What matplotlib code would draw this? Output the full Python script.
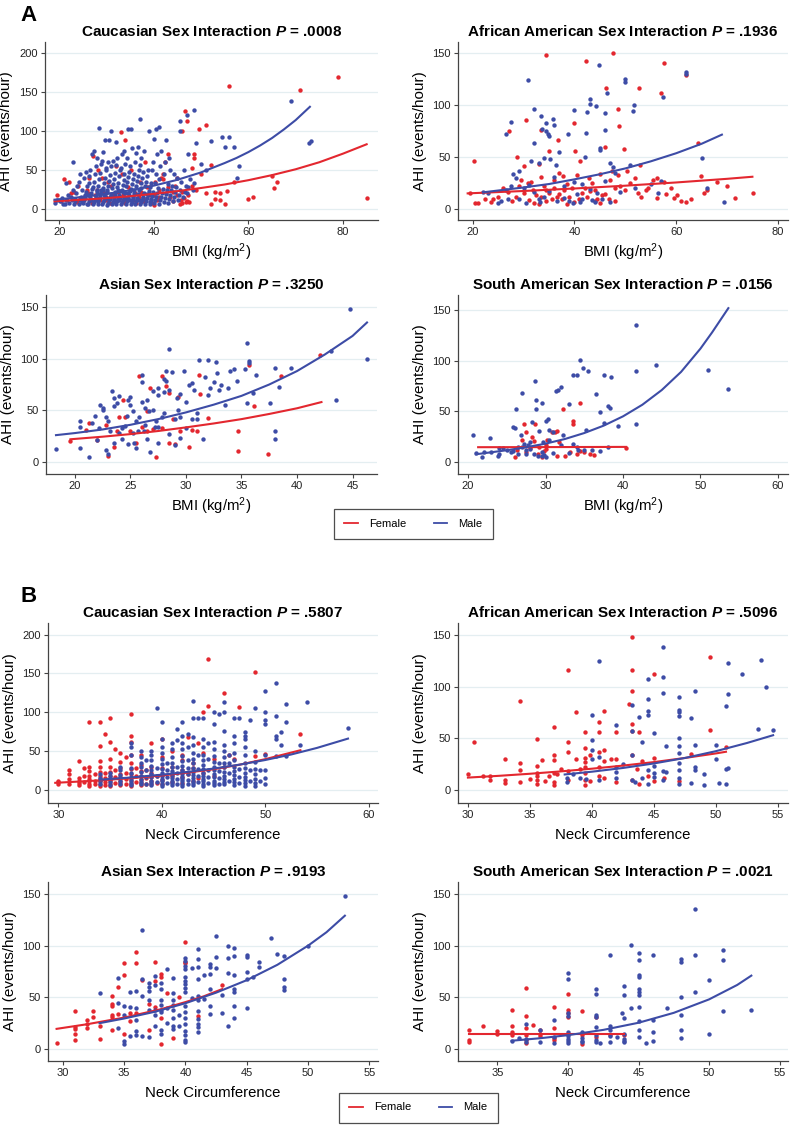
import matplotlib
matplotlib.use('Agg')
import matplotlib.pyplot as plt
from matplotlib.lines import Line2D
import numpy as np

plt.rcParams['font.family'] = ['Liberation Sans', 'DejaVu Sans']
plt.rcParams['mathtext.fontset'] = 'custom'
plt.rcParams['mathtext.rm'] = 'Liberation Sans'
plt.rcParams['mathtext.it'] = 'Liberation Sans:italic:bold'
plt.rcParams['mathtext.bf'] = 'Liberation Sans:bold'

RED = '#e3272f'
BLUE = '#3d4ca6'

# ---------------- A: BMI ----------------
cau_bmi_m = [
    (19.2,8),(19.6,12),(20.1,10),(20.5,14),(20.8,7),(21.2,6),(21.5,12),(21.8,18),(21.4,33),
    (22.1,8),(22.4,15),(22.7,11),(22.9,24),(23.1,7),(23.4,13),(23.6,20),(23.8,30),(23.0,60),(23.3,10),
    (24.1,6),(24.3,11),(24.6,16),(24.8,25),(24.2,35),(24.5,45),(24.9,9),
    (25.1,8),(25.3,12),(25.5,18),(25.7,22),(25.9,30),(25.2,40),(25.6,48),(25.4,14),(25.8,6),
    (26.1,7),(26.3,10),(26.5,15),(26.7,20),(26.9,26),(26.2,33),(26.4,42),(26.6,50),(26.8,12),(26.0,18),
    (27.1,6),(27.3,9),(27.5,13),(27.7,17),(27.9,22),(27.2,28),(27.4,35),(27.6,45),(27.8,55),(27.0,70),(27.3,75),(27.6,11),(27.9,24),
    (28.1,7),(28.3,10),(28.5,14),(28.7,19),(28.9,24),(28.2,30),(28.4,38),(28.6,46),(28.8,58),(28.0,65),(28.5,104),(28.3,12),(28.7,16),(28.9,21),
    (29.1,6),(29.3,9),(29.5,12),(29.7,16),(29.9,21),(29.2,27),(29.4,33),(29.6,40),(29.8,50),(29.0,62),(29.3,73),(29.6,88),(29.9,14),(29.5,18),(29.2,25),
    (30.1,5),(30.3,8),(30.5,11),(30.7,15),(30.9,19),(30.2,24),(30.4,29),(30.6,36),(30.8,44),(30.0,52),(30.3,60),(30.5,88),(30.7,13),(30.9,17),(30.1,22),
    (31.1,6),(31.3,9),(31.5,13),(31.7,17),(31.9,22),(31.2,27),(31.4,32),(31.6,38),(31.8,46),(31.0,55),(31.3,62),(31.0,100),(31.6,11),(31.9,20),
    (32.1,7),(32.3,10),(32.5,14),(32.7,18),(32.9,23),(32.2,28),(32.4,34),(32.6,42),(32.8,50),(32.0,57),(32.3,66),(32.1,86),(32.6,12),(32.9,16),(32.4,25),
    (33.1,6),(33.3,9),(33.5,12),(33.7,16),(33.9,20),(33.2,25),(33.4,31),(33.6,37),(33.8,45),(33.0,53),(33.3,70),(33.6,75),(33.9,14),(33.5,22),
    (34.1,7),(34.3,10),(34.5,14),(34.7,18),(34.9,23),(34.2,29),(34.4,35),(34.6,41),(34.8,48),(34.0,58),(34.3,65),(34.6,102),(34.9,12),(34.5,20),
    (35.1,6),(35.3,9),(35.5,13),(35.7,17),(35.9,21),(35.2,26),(35.4,32),(35.6,38),(35.8,45),(35.0,55),(35.3,78),(35.1,103),(35.7,15),(35.9,24),
    (36.1,7),(36.3,10),(36.5,14),(36.7,19),(36.9,24),(36.2,30),(36.4,36),(36.6,43),(36.8,50),(36.0,60),(36.3,72),(36.6,80),(36.9,12),
    (37.1,6),(37.3,9),(37.5,12),(37.7,16),(37.9,21),(37.2,27),(37.4,33),(37.6,40),(37.8,48),(37.0,57),(37.3,66),(37.0,115),(37.7,14),
    (38.1,7),(38.3,10),(38.5,14),(38.7,18),(38.9,23),(38.2,29),(38.4,35),(38.6,42),(38.8,50),(38.0,75),(38.5,19),
    (39.1,6),(39.3,9),(39.5,13),(39.7,17),(39.9,22),(39.2,28),(39.4,34),(39.6,50),(39.8,60),(39.0,100),(39.5,11),
    (40.1,8),(40.3,12),(40.5,16),(40.7,21),(40.9,27),(40.2,33),(40.4,45),(40.6,70),(40.0,90),(40.5,102),
    (41.1,7),(41.3,11),(41.5,15),(41.7,20),(41.9,26),(41.2,38),(41.4,55),(41.6,75),(41.0,105),
    (42.1,9),(42.3,14),(42.5,19),(42.7,25),(42.9,32),(42.2,45),(42.4,60),(42.6,88),
    (43.1,8),(43.3,13),(43.5,18),(43.7,24),(43.9,30),(43.2,65),(43.4,50),
    (44.1,10),(44.3,16),(44.5,22),(44.7,28),(44.9,40),(44.2,45),
    (45.1,12),(45.3,18),(45.5,25),(45.7,35),(45.5,100),(45.6,113),
    (46.2,15),(46.5,22),(46.8,30),(46.4,50),
    (47.0,20),(47.3,28),(47.6,38),(47.2,70),(47.0,120),
    (48.2,25),(48.6,33),(48.6,127),(49.0,85),(50.0,58),(51.0,50),(52.0,87),(54.5,92),(55.0,80),
    (56.0,92),(57.0,80),(57.5,40),(58.0,55),(69.0,138),(72.8,85),(73.3,87),
]
cau_bmi_f = [
    (19.5,18),(20.3,10),(21.0,38),(21.7,12),(22.0,35),(22.6,20),(23.2,22),(23.7,9),(24.0,30),(24.4,14),
    (25.0,10),(25.3,15),(25.8,25),(26.0,20),(26.4,40),(26.9,8),(27.2,68),(27.5,18),(28.0,25),(28.3,50),
    (28.6,12),(29.0,40),(29.4,20),(29.8,12),(30.0,15),(30.3,35),(30.7,8),(31.0,30),(31.4,18),(31.8,10),
    (32.0,55),(32.4,22),(32.8,14),(33.0,99),(33.2,45),(33.5,18),(33.9,8),(34.0,88),(34.2,10),(34.6,28),
    (35.0,25),(35.2,50),(35.6,12),(36.0,20),(36.3,8),(36.8,15),(37.0,35),(37.4,22),(37.8,10),(38.0,12),
    (38.2,60),(38.6,28),(39.0,28),(39.3,18),(39.7,8),(40.0,18),(40.0,5),(40.3,35),(40.7,12),(41.0,15),
    (41.2,25),(41.6,40),(42.0,45),(42.0,38),(42.3,60),(42.6,20),(43.0,70),(43.0,28),(43.4,15),(44.0,22),
    (44.0,10),(44.5,30),(45.0,40),(45.0,18),(45.5,6),(45.8,12),(46.0,8),(46.0,100),(46.0,22),(46.3,14),
    (46.5,125),(46.8,9),(47.0,10),(47.0,113),(47.3,18),(47.5,9),(48.0,52),(48.0,30),(48.5,70),(48.5,65),
    (49.0,25),(49.5,102),(50.0,45),(51.0,108),(51.0,20),(52.0,56),(52.0,6),(53.0,13),(53.0,22),(54.0,20),
    (54.0,12),(55.0,7),(55.5,23),(56.0,158),(57.0,35),(60.0,13),(61.0,16),(65.0,43),(65.5,27),(66.0,35),
    (71.0,152),(79.0,169),(85.0,14),
]
cau_bmi_fit_m = [(19,12),(25,15.6),(30,19.5),(35,24),(40,30),(45,37.5),(50,47),(55,59),(57.5,65.5),(60,73),
                 (62.5,81.5),(65,91),(67.5,102),(70,114),(73,131)]
cau_bmi_fit_f = [(19,10),(25,12),(30,14),(35,16.5),(40,19.5),(45,23),(50,27),(55,31.5),(60,37),(65,43.5),
                 (70,51),(75,60),(80,71),(85,83)]

afr_bmi_m = [
    (44.8,138),(30.8,124),(50,125),(50,122),(62,132),(62,130),(57.5,108),(51.8,100),(51.5,94),(43,106),
    (43,101),(42.5,93),(44.2,99),(40,95),(32,96),(27.5,84),(26.5,72),(33.5,89),(35.8,87),(34.5,83),
    (34.8,72),(35,70),(36,81),(33.7,77),(34.5,75),(46,92),(46.5,112),(46,76),(47.5,40),(42.2,73),
    (38.8,72),(37,55),(34,49),(35.2,48),(36.3,42),(33,44),(31.5,46),(28,34),(29,37),(28.5,30),
    (32,63),(26.5,18),(27.5,22),(30,20),(31,23),(32,16),(33,10),(34,12),(35,17),(36,31),
    (38,22),(39,8),(40,26),(40.5,14),(41,7),(42,50),(41.5,24),(43,19),(44,7),(44.5,15),
    (45,57),(45,59),(46,27),(47,44),(48,35),(49,16),(51,42),(52,20),(55,24),(56.5,15),
    (65,49),(66,20),(69.5,7),(57,27),(25.5,8),(25,6),(23,15),(22,16),(27,10),(29,10),
    (30.5,6),(33.3,7),(36.5,8),(38,11),(39.8,6),(41.5,10),(43.5,9),(45.5,10),(47,7),
]
afr_bmi_f = [
    (20.3,46),(34.4,148),(42.3,142),(47.6,150),(57.7,140),(62,129),(57,112),(52.6,116),(46.3,116),(48.5,96),
    (48.7,80),(40,83),(30.4,86),(27.2,75),(33.5,76),(36.8,66),(35,56),(40.2,56),(46,60),(49.8,58),
    (64.3,63),(28.7,50),(30,41),(33,43),(37,35),(41,46),(40.5,33),(42.8,30),(45,34),(47.3,37),
    (50.3,37),(52.8,42),(56.3,30),(57.7,26),(59,20),(60.2,13),(59.6,11),(62,7),(64.8,32),(71.5,11),
    (75.2,15),(65.5,15),(56.3,11),(54,18),(52.5,15),(49,22),(48,20),(45.5,13),(44,8),(43,17),
    (42,20),(40.8,10),(40,7),(39,12),(38,18),(37,14),(36,20),(35.5,10),(34.5,8),(33,5),
    (32.5,13),(31.8,18),(31,9),(30,15),(29,22),(28.5,12),(27.8,8),(27,16),(26,20),(25,12),
    (24,10),(23.5,7),(22.5,10),(21,6),(20.5,6),(29.5,28),(30.8,25),(32,6),(34,22),(35,15),
    (36,28),(37.5,10),(38.5,24),(39.5,20),(41.5,15),(43.5,25),(44.5,10),(46,14),(47,28),(48.5,33),
    (51,25),(53,12),(54.5,20),(55.5,28),(58,14),(61,8),(63,10),(66,18),(68,26),(70,22),
    (19.5,15),(45,6),(37.8,32),(33.5,31),(31.5,26),(36.5,12),(42.5,12),(44,18),(46.8,10),(48,8),
    (50,18),(52,30),(38.5,5),(34.5,18),(33.5,12),
]
afr_bmi_fit_m = [(22,16),(30,20.7),(35,24),(40,28.5),(45,33.4),(50,39),(55,45.8),(60,53.6),(65,62.7),(69,71.5)]
afr_bmi_fit_f = [(19,15),(30,17.3),(40,19.7),(50,22.4),(60,25.5),(70,29),(75,31)]

asi_bmi_m = [
    (18.3,13),(20.5,40),(20.5,34),(20.5,14),(21.3,5),(21.5,38),(21.8,45),(22,21),(22.2,33),(22.3,55),
    (22.5,52),(22.8,44),(23,40),(23.2,30),(22.8,12),(23,8),(23.3,69),(23.5,62),(23.5,54),(23.5,18),
    (23.8,57),(24,64),(24.2,33),(24.2,22),(24.5,35),(24.7,45),(24.8,60),(25,63),(25,55),(25.2,49),
    (25.2,28),(25.3,18),(25.5,14),(25.5,40),(25.7,30),(25.8,44),(26,84),(26,77),(26,58),(26.3,52),
    (26.3,36),(26.5,22),(26.5,60),(26.7,49),(26.8,10),(27,69),(27,50),(27.2,34),(27.5,72),(27.5,65),
    (27.5,34),(27.5,18),(27.8,44),(28,80),(28,68),(28,47),(28.2,78),(28.2,88),(28.5,109),(28.5,70),
    (28.5,27),(28.7,87),(29,42),(29,16),(29.2,62),(29.3,50),(29.5,66),(29.5,44),(29.5,23),(29.8,88),
    (30,58),(30,33),(30.3,75),(30.5,76),(30.5,42),(30.7,70),(31,42),(31,47),(31.2,99),(31.5,22),
    (31.7,82),(32,99),(32,65),(32.2,72),(32.5,77),(32.7,97),(32.8,86),(33,70),(33.2,75),(33.5,55),
    (33.8,72),(34,88),(34.3,90),(34.6,78),(35.3,90),(35.5,115),(35.5,57),(35.7,98),(35.7,96),(36,67),
    (36.3,84),(37.6,57),(38,91),(38,30),(38,22),(38.4,73),(39.5,91),(43.1,107),(43.5,60),(44.8,148),
    (46.3,100),(22.5,50),(24.8,17),(26.2,30),(27.3,40),(24,28),
]
asi_bmi_f = [
    (19.6,20),(21.3,38),(21,31),(22,21),(22.8,36),(23,6),(23.5,15),(24.3,60),(24.5,44),(25,30),
    (25.5,18),(25.8,83),(26.5,49),(26.5,30),(26.8,72),(27.3,5),(27.8,33),(27.8,83),(28.2,74),(28.5,67),
    (28.5,18),(28.8,42),(29,17),(29.3,63),(29.5,30),(30.5,31),(30.3,15),(31,30),(31.2,84),(31.3,66),
    (32,43),(34.7,30),(34.7,11),(35.7,94),(36.1,54),(37.4,8),(38.6,83),(42.1,104),(23.8,30),(24,44),
    (26,34),(27,32),
]
asi_bmi_fit_m = [(18.3,26),(20,28),(22.5,31.5),(25,36),(27.5,41.5),(30,48),(32.5,55.5),(35,64),(37.5,75),
                 (40,88),(42.5,104),(45,122),(46.3,135)]
asi_bmi_fit_f = [(19.6,22),(22.5,24.5),(25,27),(27.5,30),(30,33.5),(32.5,37.3),(35,41.5),(37.5,46.5),(40,52),(42.2,58)]

sam_bmi_m = [
    (20.6,27),(22.8,24),(21.8,5),(23,10),(23.8,6),(24,8),(24.5,14),(25,12),(25.5,10),(25.8,34),
    (26,33),(26.2,52),(26.5,15),(26.8,27),(27,68),(27.2,18),(27.5,12),(27.5,8),(28,13),(28.3,39),
    (28.6,80),(28.8,61),(28.8,52),(29,6),(29.2,31),(29.5,58),(29.5,6),(29.8,7),(30,40),(30.3,42),
    (30.5,32),(31,30),(31.3,70),(31.6,71),(32,74),(32.3,27),(33,57),(33.5,86),(34,86),(34.5,101),
    (34.8,93),(35.5,90),(35.2,32),(36.5,67),(37,49),(37.5,86),(37.5,38),(38,55),(38.3,53),(38.5,84),
    (39.3,35),(41.7,135),(41.7,90),(41.7,37),(44.3,96),(51,91),(53.6,72),(36,12),(34,15),(33,9),
    (32,17),(31,9),(30,5),(29.5,10),(28.5,8),(27.8,17),(26.5,8),(25.8,11),(24,14),(22,10),
    (21,9),(38,15),(37,11),(35,12),(34.2,12),(33.5,18),(30.5,22),(29.7,20),(28,20),(27,15),
]
sam_bmi_f = [
    (27.2,37),(27.5,30),(28.2,25),(28.5,21),(28.7,37),(29.2,15),(29.8,11),(30.2,22),(30.8,30),(31.2,30),
    (31.5,31),(31.8,20),(32.3,52),(33.5,40),(33.5,37),(34.5,58),(29,8),(30,13),(31.5,6),(32.5,6),
    (33.2,10),(34,8),(34.5,11),(35,10),(35.8,8),(36.2,7),(29.5,5),(26,5),(26.3,12),(27,22),
    (28,14),(40.4,14),(30,17),(27.5,10),
]
sam_bmi_fit_m = [(21,7.5),(25,11.5),(27.5,14.5),(30,18),(32.5,22.6),(35,28.5),(37.5,35.8),(40,45),(42.5,56.5),
                 (45,71),(47.5,89),(50,112),(51.5,128),(53.6,152)]
sam_bmi_fit_f = [(21.3,14.5),(30,14.6),(40.4,14.8)]

# ---------------- B: neck circumference ----------------
cau_neck_m = [
    (34,8),(34,12),(34,15),(34,20),(35,6),(35,10),(35,14),(35,18),(35,22),
    (36,7),(36,11),(36,15),(36,19),(36,25),(36,30),
    (37,6),(37,9),(37,13),(37,17),(37,22),(37,28),(37,45),(37,55),(37,60),
    (38,7),(38,10),(38,14),(38,18),(38,23),(38,29),(38,35),(38,42),(38,50),
    (38.5,8),(38.5,16),(38.5,26),(38.5,38),
    (39,6),(39,9),(39,12),(39,16),(39,20),(39,25),(39,31),(39,38),(39,45),(39,50),
    (39.5,10),(39.5,18),(39.5,28),(39.5,105),
    (40,5),(40,8),(40,11),(40,14),(40,18),(40,22),(40,27),(40,33),(40,40),(40,48),(40,55),(40,65),(40,87),
    (40.5,9),(40.5,17),(40.5,25),(40.5,35),
    (41,6),(41,9),(41,12),(41,15),(41,19),(41,24),(41,29),(41,35),(41,42),(41,52),(41,60),
    (41.5,8),(41.5,14),(41.5,22),(41.5,30),(41.5,78),(41.5,64),
    (42,5),(42,8),(42,11),(42,14),(42,17),(42,21),(42,26),(42,31),(42,37),(42,44),(42,52),(42,60),(42,70),(42,88),
    (42.5,7),(42.5,13),(42.5,20),(42.5,28),(42.5,38),(42.5,55),(42.5,72),
    (43,6),(43,9),(43,12),(43,15),(43,19),(43,23),(43,28),(43,34),(43,40),(43,48),(43,58),(43,68),(43,92),(43,115),
    (43.5,10),(43.5,18),(43.5,27),(43.5,45),(43.5,92),
    (44,5),(44,8),(44,11),(44,14),(44,18),(44,22),(44,27),(44,32),(44,38),(44,45),(44,55),(44,65),(44,93),
    (44.5,9),(44.5,16),(44.5,25),(44.5,40),(44.5,60),
    (45,6),(45,9),(45,12),(45,16),(45,20),(45,25),(45,30),(45,36),(45,43),(45,52),(45,62),(45,85),(45,100),
    (45.5,8),(45.5,15),(45.5,24),(45.5,35),(45.5,98),
    (46,7),(46,10),(46,14),(46,18),(46,23),(46,29),(46,35),(46,42),(46,50),(46,58),(46,76),(46,100),(46,113),
    (46.5,12),(46.5,22),(46.5,35),(46.5,45),
    (47,6),(47,10),(47,14),(47,19),(47,24),(47,30),(47,38),(47,48),(47,60),(47,70),(47,93),
    (47.5,9),(47.5,17),(47.5,27),(47.5,93),
    (48,5),(48,9),(48,13),(48,17),(48,22),(48,28),(48,35),(48,45),(48,55),(48,65),(48,75),(48,70),
    (48.5,12),(48.5,25),(48.5,90),
    (49,5),(49,9),(49,14),(49,20),(49,27),(49,36),(49,50),(49,105),(49.5,12),(49.5,25),
    (50,8),(50,15),(50,25),(50,45),(50,85),(50,90),(50,100),(50,127),
    (51,44),(51,65),(51,70),(51,95),(51,138),(51.5,58),(51.5,75),(52,44),(52,87),(52,111),
    (53.4,58),(54,113),(58,80),
]
cau_neck_f = [
    (30,7),(30,10),(30,12),(31,8),(31,14),(31,20),(31,26),(32,6),(32,9),(32,12),(32,15),(32,37),
    (32.5,10),(32.5,18),(32.5,28),(33,5),(33,8),(33,11),(33,14),(33,18),(33,24),(33,30),(33,88),
    (33.5,7),(33.5,12),(33.5,20),(34,5),(34,8),(34,11),(34,14),(34,18),(34,23),(34,29),(34,37),(34,56),(34,88),
    (34.5,6),(34.5,10),(34.5,15),(34.5,22),(34.5,72),
    (35,5),(35,8),(35,11),(35,14),(35,18),(35,23),(35,30),(35,40),(35,62),(35,93),
    (35.5,9),(35.5,16),(35.5,25),(35.5,52),(36,6),(36,9),(36,12),(36,16),(36,21),(36,28),(36,36),(36,48),
    (36.5,8),(36.5,14),(36.5,22),(36.5,42),
    (37,5),(37,8),(37,11),(37,15),(37,20),(37,27),(37,35),(37,45),(37,62),(37,69),(37,98),
    (37.5,10),(37.5,18),(37.5,28),(38,6),(38,9),(38,13),(38,18),(38,24),(38,32),(38,45),
    (38.5,8),(38.5,15),(38.5,25),(39,7),(39,11),(39,16),(39,22),(39,30),(39,60),(39.5,9),(39.5,18),
    (40,8),(40,13),(40,19),(40,28),(40,42),(40,65),(41,10),(41,18),(41,30),(41,50),
    (42,9),(42,16),(42,25),(42,38),(42,45),(42.5,68),(42.5,20),(43,12),(43,28),(43,35),
    (43.5,60),(43.5,15),(44,48),(44,100),(44,22),(44.5,108),(44.5,169),(45,18),(45,40),
    (46,125),(46,30),(46.5,45),(47,40),(47.5,107),(49,152),(49,44),(50,46),(53.4,72),
]
cau_neck_fit_m = [(34,13),(37,15.9),(40,19.5),(42.5,23.1),(45,27.4),(47.5,32.4),(50,38.4),(52.5,45.5),(55,54),(58,66)]
cau_neck_fit_f = [(29.7,9),(32.5,11),(35,13),(37.5,15.5),(40,18.5),(42.5,22.2),(45,26.5),(47.5,32.3),(50,39.5),(53.4,51)]

afr_neck_m = [
    (40,73),(40,48),(40,39),(40,30),(40.6,125),(40.6,32),(40.6,10),(41.9,63),(41.9,22),(41.9,17),
    (41.9,12),(42.5,25),(43.2,82),(43.2,57),(43.2,34),(43.2,10),(43.5,8),(43.8,71),(44,46),(44,12),
    (44.5,107),(44.5,88),(44.5,76),(44.5,73),(44.5,19),(44.5,6),(45,55),(45,23),(45,16),(45,13),
    (45.7,138),(45.7,109),(45.7,94),(45.7,18),(45.7,10),(46,43),(46,17),(47,90),(47,77),(47,75),
    (47,72),(47,50),(47,43),(47,36),(47,26),(47,19),(47,12),(47,6),(48,70),(48,7),
    (48.3,96),(48.3,44),(48.3,22),(48.3,19),(49,15),(49,5),(50,44),(50,30),(50.2,7),(50.8,81),
    (50.8,20),(50.8,6),(51,123),(51,93),(51,21),(52.1,112),(53.4,59),(53.6,126),(54,100),(54.6,58),
    (38,8),(38.5,15),(39,12),(39.5,11),(38,12),
]
afr_neck_f = [
    (30,15),(30.5,46),(31.2,14),(31.8,14),(31.8,10),(33,30),(33,10),(33,7),(34.2,86),(34.2,26),
    (34.2,19),(34.2,8),(35,11),(35.6,49),(35.6,23),(35.6,16),(35.6,10),(35.6,6),(35.6,14),(36,29),
    (36.2,9),(36.5,14),(36.9,61),(36.9,34),(36.9,29),(36.9,16),(36.9,8),(36.9,5),(37.2,15),(37.5,20),
    (38.1,116),(38.1,46),(38.1,37),(38.1,18),(38.1,10),(38.7,75),(38.7,30),(39,20),(39.4,56),(39.4,41),
    (39.4,31),(39.4,27),(39.4,22),(39.4,16),(39.4,10),(39.4,5),(39.8,34),(39.8,9),(40.6,66),(40.6,56),
    (40.6,37),(40.6,22),(40.6,14),(41,76),(41,39),(41,28),(41,12),(41.5,30),(41.9,56),(41.9,30),
    (41.9,8),(43,83),(43.2,148),(43.2,116),(43.2,96),(43.2,64),(43.2,57),(43.2,34),(43.2,10),(43.6,20),
    (43.8,56),(43.8,6),(44,28),(44.5,14),(45,112),(45,31),(45,9),(45.8,12),(47,9),(49.5,129),
    (49.5,58),(50.8,42),(48,35),
]
afr_neck_fit_m = [(37.8,15),(40,17.7),(42.5,21.3),(45,25.7),(47.5,31),(50,37.6),(52.5,45.5),(54.6,53)]
afr_neck_fit_f = [(30,12),(32.5,13.7),(35,15.7),(37.5,18),(40,20.6),(42.5,23.6),(45,27),(47.5,31),(50,35.4),(50.8,37)]

asi_neck_m = [
    (33,54),(34.5,69),(34.5,45),(34.5,20),(35,42),(35,33),(35,8),(35,5),(35.5,55),(35.5,41),
    (35.5,13),(36,56),(36,40),(36,28),(36,17),(36,14),(36.5,115),(36.5,68),(36.5,51),(36.5,13),
    (37,64),(37,60),(37,56),(37,47),(37,38),(37,12),(37.5,71),(37.5,62),(37.5,38),(37.5,33),
    (37.5,22),(38,64),(38,58),(38,47),(38,43),(38,38),(38,36),(38,18),(38,15),(38.5,77),
    (38.5,40),(38.5,25),(39,69),(39,54),(39,47),(39,43),(39,38),(39,30),(39,22),(39,19),
    (39.5,33),(39.5,22),(40,88),(40,85),(40,80),(40,77),(40,70),(40,66),(40,63),(40,59),
    (40,55),(40,42),(40,36),(40,30),(40,24),(40,17),(40,14),(40,9),(40,7),(40.5,78),
    (40.5,49),(41,97),(41,87),(41,79),(41,68),(41,51),(41,47),(41,37),(41,29),(41,24),
    (41,21),(41,16),(41.5,72),(41.5,48),(42,82),(42,79),(42,73),(42,58),(42,42),(42,34),
    (42.5,89),(42.5,109),(42.5,78),(43,52),(43,35),(43.5,100),(43.5,88),(43.5,74),(43.5,22),(44,98),
    (44,90),(44,72),(44,58),(44,55),(44,42),(44,30),(45,91),(45,89),(45,75),(45,68),
    (45,40),(45.5,70),(46,84),(46,79),(47,107),(47.5,92),(48,90),(48,68),(48,60),(48,57),
    (50,100),(53,148),
]
asi_neck_f = [
    (29.5,6),(31,37),(31,21),(31,19),(31,15),(31,9),(32,28),(32,24),(32,20),(32.5,37),
    (32.5,31),(33,22),(33,10),(34,51),(34,44),(34,42),(34,33),(34,31),(34,18),(34.5,60),
    (34.5,34),(35,83),(35,72),(35,15),(35.5,35),(35.5,27),(36,94),(36,83),(36,35),(36.5,67),
    (37,44),(37,18),(37.5,84),(37.5,66),(37.5,41),(38,73),(38,70),(38,30),(38,5),(38.5,54),
    (39,11),(40,104),(40,84),(40,83),(41,32),(43,62),(39.5,50),
]
asi_neck_fit_m = [(33,25),(35,29.5),(37.5,36),(40,44.3),(42.5,54.5),(45,66.6),(47.5,81.5),(50,100),(51.5,113),(53,129)]
asi_neck_fit_f = [(29.5,19.5),(32,24),(35,30.4),(38,38.5),(40,45.4),(41.5,51),(43,58)]

sam_neck_m = [
    (36,8),(36.5,11),(37,24),(37,10),(37,7),(38,18),(38,7),(39,28),(39,12),(39,6),
    (40,74),(40,68),(40,35),(40,32),(40,16),(40,13),(40,10),(40,8),(40,6),(41,16),
    (41,11),(41,8),(41,7),(42,58),(42,53),(42,33),(42,31),(42,21),(42,14),(42,9),
    (42,7),(42.3,6),(43,91),(43,22),(43,18),(43,13),(43,7),(43.5,12),(43.8,35),(44,61),
    (44,52),(44,30),(44,15),(44,10),(44,8),(44,7),(44.5,101),(44.5,40),(45,93),(45,86),
    (45,72),(45,70),(45,58),(45,55),(45,52),(45,41),(45,27),(45,18),(45,12),(45.5,6),
    (46,91),(46,28),(46,16),(46,8),(47,40),(48,87),(48,84),(48,50),(48,33),(48,18),
    (48,11),(49,135),(49,91),(49,55),(50,67),(50,15),(51,96),(51,86),(51,37),(53,38),
]
sam_neck_f = [
    (33,18),(33,9),(33,7),(34,22),(35,17),(35,15),(36,38),(36,22),(36,16),(36,14),
    (37,59),(37,32),(37,20),(37,14),(37,9),(37,6),(37.5,23),(38,15),(38,13),(39,41),
    (39,20),(39,11),(39,9),(40,53),(40,38),(40,35),(40,31),(40,15),(41,37),(41,14),
    (41,5),(42,31),(42,12),(43,14),(44,14),(38,18),
]
sam_neck_fit_m = [(36,8),(38,10.4),(40,13.4),(42.5,18.5),(45,25.4),(47.5,35),(50,48),(52,62),(53,71)]
sam_neck_fit_f = [(33,14.5),(44,14.5)]

BMI_LABEL = 'BMI (kg/m$^2$)'
NECK_LABEL = 'Neck Circumference'


def panel(rect, title, p, fem, mal, fit_f, fit_m, xlim, ylim, xticks, yticks, xlabel, xlab_y):
    ax = fig.add_axes(rect)
    fx, fy = np.array(fem).T
    mx, my = np.array(mal).T
    ax.scatter(fx, fy, s=10, c=RED, linewidths=0, zorder=2)
    ax.scatter(mx, my, s=10, c=BLUE, linewidths=0, zorder=3)
    lx, ly = np.array(fit_f).T
    ax.plot(lx, ly, c=RED, lw=1.5, zorder=4)
    lx, ly = np.array(fit_m).T
    ax.plot(lx, ly, c=BLUE, lw=1.5, zorder=5)
    ax.set_xlim(*xlim)
    ax.set_ylim(*ylim)
    ax.set_xticks(xticks)
    ax.set_yticks(yticks)
    ax.yaxis.grid(True, color='#e4eef1', lw=0.9)
    ax.set_axisbelow(True)
    for s in ['top', 'right']:
        ax.spines[s].set_visible(False)
    for s in ['left', 'bottom']:
        ax.spines[s].set_color('#444444')
        ax.spines[s].set_linewidth(0.9)
    ax.tick_params(direction='out', length=3, width=0.8, color='#444444',
                   labelsize=8, labelcolor='#222222', pad=2)
    ax.set_title(title + ' $\\mathit{P}$ = ' + p, fontsize=11, fontweight='bold', pad=4)
    ax.set_ylabel('AHI (events/hour)', fontsize=11)
    ax.yaxis.set_label_coords(-0.095, 0.5)
    ax.set_xlabel(xlabel, fontsize=10.7)
    ax.xaxis.set_label_coords(0.5, xlab_y)
    return ax


fig = plt.figure(figsize=(7.9, 11.26), dpi=100)

W, H = 790.0, 1126.0
def r(left, top, right, bottom):
    return [left / W, 1 - bottom / H, (right - left) / W, (bottom - top) / H]

panel(r(45, 42, 378, 220), 'Caucasian Sex Interaction', '.0008', cau_bmi_f, cau_bmi_m,
      cau_bmi_fit_f, cau_bmi_fit_m, (17, 87.4), (-14, 214), [20, 40, 60, 80], [0, 50, 100, 150, 200], BMI_LABEL, -0.12)
panel(r(458, 42, 788, 220), 'African American Sex Interaction', '.1936', afr_bmi_f, afr_bmi_m,
      afr_bmi_fit_f, afr_bmi_fit_m, (17.1, 82), (-10.6, 160.6), [20, 40, 60, 80], [0, 50, 100, 150], BMI_LABEL, -0.12)
panel(r(46, 295, 377, 474), 'Asian Sex Interaction', '.3250', asi_bmi_f, asi_bmi_m,
      asi_bmi_fit_f, asi_bmi_fit_m, (17.4, 47.2), (-11.6, 161.6), [20, 25, 30, 35, 40, 45], [0, 50, 100, 150], BMI_LABEL, -0.12)
panel(r(458, 295, 788, 474), 'South American Sex Interaction', '.0156', sam_bmi_f, sam_bmi_m,
      sam_bmi_fit_f, sam_bmi_fit_m, (18.7, 61.3), (-12, 165), [20, 30, 40, 50, 60], [0, 50, 100, 150], BMI_LABEL, -0.12)

panel(r(48, 623, 378, 803), 'Caucasian Sex Interaction', '.5807', cau_neck_f, cau_neck_m,
      cau_neck_fit_f, cau_neck_fit_m, (29.0, 60.9), (-17, 215), [30, 40, 50, 60], [0, 50, 100, 150, 200], NECK_LABEL, -0.14)
panel(r(458, 623, 788, 803), 'African American Sex Interaction', '.5096', afr_neck_f, afr_neck_m,
      afr_neck_fit_f, afr_neck_fit_m, (29.2, 55.8), (-12.6, 161.6), [30, 35, 40, 45, 50, 55], [0, 50, 100, 150], NECK_LABEL, -0.14)
panel(r(48, 882, 378, 1061), 'Asian Sex Interaction', '.9193', asi_neck_f, asi_neck_m,
      asi_neck_fit_f, asi_neck_fit_m, (28.8, 55.7), (-11.6, 161.6), [30, 35, 40, 45, 50, 55], [0, 50, 100, 150], NECK_LABEL, -0.14)
panel(r(458, 882, 788, 1061), 'South American Sex Interaction', '.0021', sam_neck_f, sam_neck_m,
      sam_neck_fit_f, sam_neck_fit_m, (32.2, 55.6), (-11.6, 161.6), [35, 40, 45, 50, 55], [0, 50, 100, 150], NECK_LABEL, -0.14)

fig.text(20 / W, 1 - 5 / H, 'A', fontsize=16, fontweight='bold', va='top', ha='left')
fig.text(20 / W, 1 - 586 / H, 'B', fontsize=16, fontweight='bold', va='top', ha='left')

handles = [Line2D([0], [0], color=RED, lw=1.3), Line2D([0], [0], color=BLUE, lw=1.3)]
for cx, cy in [(413.5, 524), (418.5, 1107.5)]:
    leg = fig.legend(handles, ['Female', 'Male'], loc='center', bbox_to_anchor=(cx / W, 1 - cy / H),
                     ncol=2, fontsize=8, frameon=True, fancybox=False, handlelength=1.2,
                     columnspacing=2.5, handletextpad=1.0, borderpad=0.9, borderaxespad=0)
    leg.get_frame().set_edgecolor('#222222')
    leg.get_frame().set_linewidth(0.9)

fig.savefig('out.png', dpi=100)
